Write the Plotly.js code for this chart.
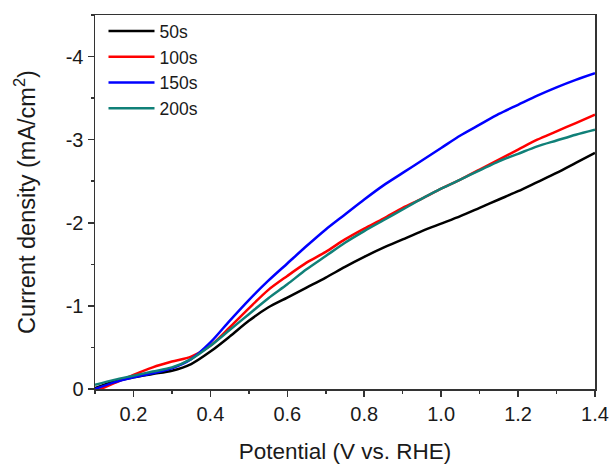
<!DOCTYPE html>
<html>
<head>
<meta charset="utf-8">
<script src="https://cdn.plot.ly/plotly-3.0.1.min.js"></script>
<style>html,body{margin:0;padding:0;background:#fff;}#chart{width:612px;height:464px;}</style>
</head>
<body>
<div id="chart"></div>
<script>
const potential = [0.10,0.15,0.20,0.25,0.30,0.35,0.40,0.45,0.50,0.55,0.60,0.65,0.70,0.75,0.80,0.85,0.90,0.95,1.00,1.05,1.10,1.15,1.20,1.25,1.30,1.35,1.40];
const j50s  = [-0.01,-0.09,-0.14,-0.18,-0.22,-0.30,-0.45,-0.63,-0.82,-0.98,-1.10,-1.22,-1.34,-1.47,-1.59,-1.70,-1.80,-1.90,-1.99,-2.08,-2.18,-2.28,-2.38,-2.49,-2.60,-2.72,-2.84];
const j100s = [0.03,-0.07,-0.17,-0.26,-0.33,-0.39,-0.52,-0.74,-0.97,-1.19,-1.36,-1.52,-1.65,-1.80,-1.93,-2.05,-2.18,-2.29,-2.41,-2.52,-2.64,-2.76,-2.88,-3.00,-3.10,-3.20,-3.30];
const j150s = [0.00,-0.08,-0.14,-0.19,-0.25,-0.36,-0.56,-0.82,-1.07,-1.30,-1.51,-1.72,-1.92,-2.10,-2.28,-2.45,-2.60,-2.75,-2.90,-3.05,-3.18,-3.31,-3.42,-3.53,-3.63,-3.72,-3.80];
const j200s = [-0.05,-0.11,-0.16,-0.21,-0.26,-0.36,-0.52,-0.71,-0.90,-1.09,-1.26,-1.44,-1.60,-1.76,-1.90,-2.03,-2.16,-2.29,-2.41,-2.52,-2.63,-2.74,-2.83,-2.92,-2.99,-3.06,-3.12];
const seriesNames = ["50s","100s","150s","200s"];
const seriesColors = ["#000000","#ff0000","#0000ff","#108078"];
const xTickVals = [0.2,0.4,0.6,0.8,1.0,1.2,1.4];
const xTickText = ["0.2","0.4","0.6","0.8","1.0","1.2","1.4"];
const yTickVals = [0,-1,-2,-3,-4];
const yTickText = ["0","-1","-2","-3","-4"];

const ys = [j50s, j100s, j150s, j200s];
const traces = ys.map((y, i) => ({
  x: potential, y: y, type: 'scatter', mode: 'lines', name: seriesNames[i],
  line: {color: seriesColors[i], width: 2.5, shape: 'spline', smoothing: 0.8}
}));

const fontFam = '"Liberation Sans", Arial, sans-serif';
const txt = '#1a1a1a';
const layout = {
  width: 612, height: 464,
  margin: {l: 95, r: 17, t: 15, b: 75},
  paper_bgcolor: '#fff', plot_bgcolor: '#fff',
  font: {family: fontFam, size: 19, color: txt},
  showlegend: true,
  legend: {x: 0.017, y: 1.005, xanchor: 'left', yanchor: 'top', bgcolor: 'rgba(0,0,0,0)',
           font: {family: fontFam, size: 17.5, color: txt}, itemwidth: 46},
  xaxis: {
    range: [0.1, 1.4], showgrid: false, zeroline: false,
    showline: true, linecolor: '#333', linewidth: 1.5, mirror: true,
    ticks: 'outside', ticklen: 6, tickwidth: 1.5, tickcolor: '#333',
    tickvals: xTickVals, ticktext: xTickText,
    minor: {dtick: 0.1, tick0: 0.1, ticks: 'outside', ticklen: 3, tickwidth: 1.5, tickcolor: '#333'},
    tickfont: {family: fontFam, size: 20, color: txt},
    title: {text: 'Potential (V vs. RHE)', font: {family: fontFam, size: 22.5, color: txt}, standoff: 21}
  },
  yaxis: {
    range: [0, -4.5], showgrid: false, zeroline: false,
    showline: true, linecolor: '#333', linewidth: 1.5, mirror: true,
    ticks: 'outside', ticklen: 6, tickwidth: 1.5, tickcolor: '#333',
    tickvals: yTickVals, ticktext: yTickText,
    minor: {dtick: 0.5, tick0: 0, ticks: 'outside', ticklen: 3, tickwidth: 1.5, tickcolor: '#333'},
    tickfont: {family: fontFam, size: 20, color: txt},
    title: {text: 'Current density (mA/cm<sup>2</sup>)', font: {family: fontFam, size: 23.5, color: txt}, standoff: 23}
  }
};
Plotly.newPlot('chart', traces, layout, {displayModeBar: false, staticPlot: true});
</script>
</body>
</html>
